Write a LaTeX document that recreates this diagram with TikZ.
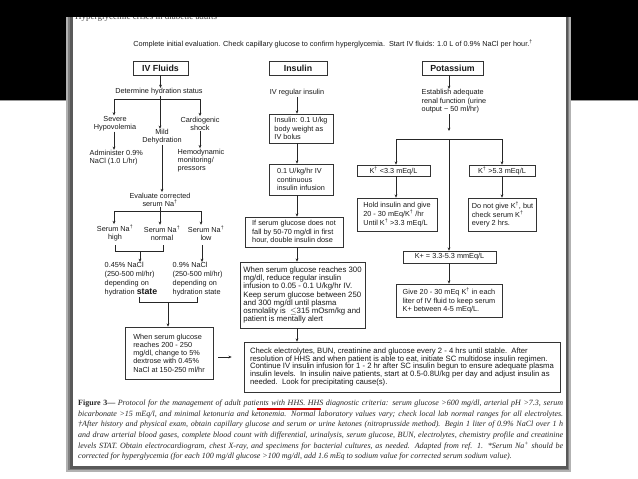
\documentclass[tikz,border=0pt]{standalone}
\usepackage{fontspec}
\setmainfont{Liberation Sans}
\newfontfamily\seriffont{Liberation Serif}
\usetikzlibrary{arrows.meta}
\newcommand{\capl}[1]{\makebox[485pt][s]{#1}}
\newcommand{\dg}{\textsuperscript{\dag}}
\begin{document}
\begin{tikzpicture}[x=1pt,y=-1pt,
  txt/.style={font=\fontsize{7.3}{8.2}\selectfont, text=black!90, inner sep=0.5pt, align=center},
  box/.style={txt, draw=black!80, line width=0.7pt, inner xsep=3pt, inner ysep=1pt, align=left},
  ttl/.style={draw=black!80, line width=0.7pt, font=\fontsize{8.8}{9}\selectfont\bfseries, text=black!90, inner sep=0pt, minimum height=14pt},
  arr/.style={draw=black!85, line width=0.6pt, -{Stealth[length=3.2pt,width=2.8pt]}},
  conn/.style={draw=black!85, line width=0.6pt},
  captxt/.style={font=\seriffont\itshape\fontsize{8}{8}\selectfont, text=black!85, inner sep=0pt, anchor=west}
]
\useasboundingbox (0,0) rectangle (638,479);
% slide background
\fill[white] (0,0) rectangle (638,479);
\fill[black] (0,0) rectangle (638,100);
\draw[black!40, line width=0.8pt] (0,100.5) -- (638,100.5);
% page shadow and page
\fill[black!30] (66,17) rectangle (571,472);
\fill[black!50] (68,17) rectangle (569,470);
\fill[black!65] (70,17) rectangle (568,469);
\fill[white] (73,17) rectangle (566,466);
\begin{scope}
\clip (73,17.5) rectangle (400,30);
\node[anchor=base west, inner sep=0pt, font=\seriffont\fontsize{9}{9}\selectfont, text=black!75] (hdr) at (75,19.8) {Hyperglycemic crises in diabetic adults};
\end{scope}

% top line
\node[txt] (top) at (333,44) {Complete initial evaluation. Check capillary glucose to confirm hyperglycemia.\ \ Start IV fluids: 1.0 L of 0.9\% NaCl per hour.\dg};

% titles
\node[ttl, minimum width=55pt] (fluids) at (160.5,68) {IV Fluids};
\node[ttl, minimum width=58pt] (insulin) at (298,68) {Insulin};
\node[ttl, minimum width=61pt] (potassium) at (452.5,68) {Potassium};

% ---------- IV fluids column
\node[txt] (det) at (159,92) {Determine hydration status};
\coordinate (b1l) at (114,99);
\coordinate (b1m) at (160,99);
\coordinate (b1r) at (200,99);
\node[txt] (sev) at (115,123.5) {Severe\\Hypovolemia};
\node[txt] (mild) at (162,137) {Mild\\Dehydration};
\node[txt] (card) at (200,123.5) {Cardiogenic\\shock};
\node[txt, anchor=west, align=left] (adm) at (89,158) {Administer 0.9\%\\NaCl (1.0 L/hr)};
\node[txt, anchor=west, align=left] (hemo) at (177,160.5) {Hemodynamic\\monitoring/\\pressors};
\node[txt] (eval) at (160,199.5) {Evaluate corrected\\serum Na\dg};
\coordinate (b2l) at (114,211);
\coordinate (b2m) at (160,211);
\coordinate (b2r) at (201,211);
\node[txt] (nahigh) at (115,233) {Serum Na\dg\\high};
\node[txt] (nanorm) at (162,233) {Serum Na\dg\\normal};
\node[txt] (nalow) at (206,233) {Serum Na\dg\\low};
\coordinate (k1l) at (115,245);
\coordinate (k1r) at (163,245);
\coordinate (k1m) at (140,251);
\coordinate (lowt) at (202,245);
\node[txt, anchor=west, align=left, font=\fontsize{7.3}{9}\selectfont] (na45) at (104,279.5) {0.45\% NaCl\\(250-500 ml/hr)\\depending on\\hydration {\fontsize{8.8}{9}\selectfont\bfseries state}};
\node[txt, anchor=west, align=left, font=\fontsize{7.3}{9}\selectfont] (na9) at (172,279.5) {0.9\% NaCl\\(250-500 ml/hr)\\depending on\\hydration state};
\coordinate (k2l) at (139,297);
\coordinate (k2r) at (197,297);
\coordinate (k2m) at (168,302);
\node[box, minimum width=88pt, minimum height=52pt] (gl) at (169,353) {When serum glucose\\reaches 200 - 250\\mg/dl, change to 5\%\\dextrose with 0.45\%\\NaCl at 150-250 ml/hr};

\draw[arr] (fluids.south) -- (fluids.south |- det.north);
\draw[conn] (b1m |- det.south) -- (b1m);
\draw[conn] (b1l) -- (b1r);
\draw[arr] (b1l) -- (b1l |- sev.north);
\draw[arr] (b1r) -- (b1r |- card.north);
\draw[arr] (b1m) -- (b1m |- mild.north);
\draw[arr] (sev.south -| b1l) -- (b1l |- adm.north);
\draw[arr] (card.south) -- (card.south |- hemo.north);
\draw[arr] (mild.south) -- (mild.south |- eval.north);
\draw[conn] (b2m |- eval.south) -- (b2m);
\draw[conn] (b2l) -- (b2r);
\draw[arr] (b2l) -- (b2l |- nahigh.north);
\draw[arr] (b2m) -- (b2m |- nanorm.north);
\draw[arr] (b2r) -- (b2r |- nalow.north);
\draw[conn] (k1l) -- (k1l |- k1m) -- (k1r |- k1m) -- (k1r);
\draw[arr] (k1m) -- (k1m |- na45.north);
\draw[arr] (lowt) -- (lowt |- na9.north);
\draw[conn] (k2l) -- (k2l |- k2m) -- (k2r |- k2m) -- (k2r);
\draw[arr] (k2m) -- (k2m |- gl.north);

% ---------- Insulin column
\node[txt] (ivreg) at (297,93) {IV regular insulin};
\node[box, minimum width=64pt, minimum height=29pt] (bolus) at (301,128.5) {Insulin: 0.1 U/kg\\body weight as\\IV bolus};
\node[box, minimum width=64pt, minimum height=31pt] (cont) at (301,179.5) {0.1 U/kg/hr IV\\continuous\\insulin infusion};
\node[box, minimum width=98pt, minimum height=30pt] (double) at (294,232) {If serum glucose does not\\fall by 50-70 mg/dl in first\\hour, double insulin dose};
\node[box, minimum width=125pt, minimum height=66pt, font=\fontsize{7.8}{8.3}\selectfont] (reach) at (302.5,295) {When serum glucose reaches 300\\mg/dl, reduce regular insulin\\infusion to 0.05 - 0.1 U/kg/hr IV.\\Keep serum glucose between 250\\and 300 mg/dl until plasma\\osmolality is \ $\leq$315 mOsm/kg and\\patient is mentally alert};
\node[box, minimum width=316pt, minimum height=50pt, font=\fontsize{7.7}{7.6}\selectfont] (final) at (402,367) {Check electrolytes, BUN, creatinine and glucose every 2 - 4 hrs until stable.\ \ After\\resolution of HHS and when patient is able to eat, initiate SC multidose insulin regimen.\\Continue IV insulin infusion for 1 - 2 hr after SC insulin begun to ensure adequate plasma\\insulin levels.\ \ In insulin naive patients, start at 0.5-0.8U/kg per day and adjust insulin as\\needed.\ \ Look for precipitating cause(s).};
\coordinate (ix) at (297,0);
\coordinate (ay) at (0,357);
\draw[arr] (ivreg.south) -- (ivreg.south |- bolus.north);
\draw[arr] (bolus.south -| ix) -- (ix |- cont.north);
\draw[arr] (cont.south -| ix) -- (ix |- double.north);
\draw[arr] (double.south -| ix) -- (ix |- reach.north);
\draw[arr] (reach.south -| ix) -- (ix |- final.north);
\draw[arr, shorten <=5pt, shorten >=12pt] (gl.east |- ay) -- (final.west |- ay);

% ---------- Potassium column
\node[txt, anchor=west, align=left, font=\fontsize{7.3}{8.5}\selectfont] (est) at (421,101.5) {Establish adequate\\renal function (urine\\output \textasciitilde{} 50 ml/hr)};
\coordinate (px) at (449,0);
\coordinate (b3l) at (396,139);
\coordinate (b3m) at (449,139);
\coordinate (b3r) at (502,139);
\coordinate (estend) at (449,131);
\node[box, minimum width=73pt, minimum height=11pt] (klow) at (393.5,170.5) {K\dg\ <3.3 mEq/L};
\node[box, minimum width=66pt, minimum height=11pt] (khigh) at (502,170.5) {K\dg\ >5.3 mEq/L};
\node[box, minimum width=80pt, minimum height=33pt] (hold) at (397,214.5) {Hold insulin and give\\20 - 30 mEq/K\dg\ /hr\\Until K\dg\ >3.3 mEq/L};
\node[box, minimum width=67pt, minimum height=33pt] (notgive) at (502.5,214.5) {Do not give K\dg, but\\check serum K\dg\\every 2 hrs.};
\node[box, minimum width=93pt, minimum height=12pt] (kmid) at (449.5,257) {K+ = 3.3-5.3 mmEq/L};
\node[box, minimum width=106pt, minimum height=33pt] (give) at (449,300.5) {Give 20 - 30 mEq K\dg\ in each\\liter of IV fluid to keep serum\\K+ between 4-5 mEq/L.};
\draw[arr] (potassium.south -| px) -- (px |- est.north);
\draw[arr] (est.south -| px) -- (estend);
\draw[conn] (b3l) -- (b3r);
\draw[arr] (b3l) -- (b3l |- klow.north);
\draw[arr] (b3r) -- (b3r |- khigh.north);
\draw[arr] (b3m) -- (b3m |- kmid.north);
\draw[arr] (klow.south -| b3l) -- (b3l |- hold.north);
\draw[arr] (khigh.south -| b3r) -- (b3r |- notgive.north);
\draw[arr] (kmid.south -| px) -- (px |- give.north);

% ---------- caption
\node[captxt] (c1) at (78,404) {\capl{\textup{\bfseries Figure 3—} Protocol for the management of adult patients with HHS. HHS diagnostic criteria: serum glucose >600 mg/dl, arterial pH >7.3, serum}};
\node[captxt] (c2) at (78,414.5) {\capl{bicarbonate >15 mEq/l, and minimal ketonuria and ketonemia. Normal laboratory values vary; check local lab normal ranges for all electrolytes.}};
\node[captxt] (c3) at (78,425) {\capl{\dag After history and physical exam, obtain capillary glucose and serum or urine ketones (nitroprusside method). Begin 1 liter of 0.9\% NaCl over 1 h}};
\node[captxt] (c4) at (78,435.5) {\capl{and draw arterial blood gases, complete blood count with differential, urinalysis, serum glucose, BUN, electrolytes, chemistry profile and creatinine}};
\node[captxt] (c5) at (78,446) {\capl{levels STAT. Obtain electrocardiogram, chest X-ray, and specimens for bacterial cultures, as needed. Adapted from ref. 1. *Serum Na\textsuperscript{+} should be}};
\node[captxt] (c6) at (78,456.5) {corrected for hyperglycemia (for each 100 mg/dl glucose >100 mg/dl, add 1.6 mEq to sodium value for corrected serum sodium value).};
\draw[red!85!black, line width=1.1pt] (257,409) -- (321,409);
\end{tikzpicture}
\end{document}
